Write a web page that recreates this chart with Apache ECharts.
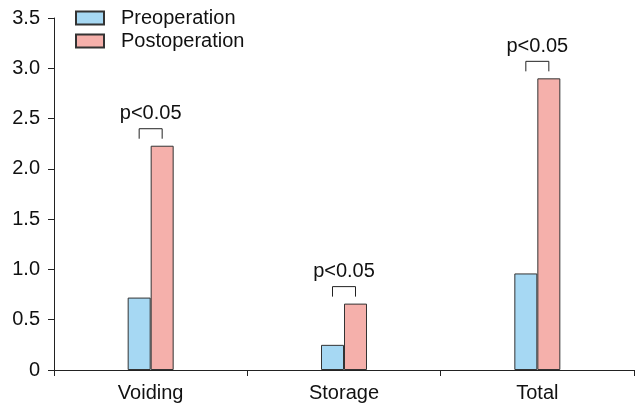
<!DOCTYPE html>
<html>
<head>
<meta charset="utf-8">
<script src="https://cdn.jsdelivr.net/npm/echarts@6/dist/echarts.min.js"></script>
<style>
  html, body { margin: 0; padding: 0; background: #fff; }
  #chart { width: 635px; height: 406px; }
</style>
</head>
<body>
<div id="chart"></div>
<script>
var categories = ['Voiding', 'Storage', 'Total']
var preValues = [0.72, 0.25, 0.96]
var postValues = [2.23, 0.66, 2.9]
var pLabels = ['p<0.05', 'p<0.05', 'p<0.05']

var font = 'Liberation Sans, Arial, sans-serif'
var chart = echarts.init(document.getElementById('chart'))

chart.setOption({
  animation: false,
  backgroundColor: '#fff',
  grid: { left: 54, right: 1, top: 18, bottom: 36 },
  legend: {
    data: ['Preoperation', 'Postoperation'],
    orient: 'vertical',
    left: 75,
    top: 8,
    padding: 0,
    itemWidth: 28,
    itemHeight: 13,
    itemGap: 3,
    icon: 'rect',
    textStyle: { fontFamily: font, fontSize: 20, color: '#111', lineHeight: 20, padding: [0, 0, 0, 12] }
  },
  xAxis: {
    type: 'category',
    data: categories,
    axisLine: { lineStyle: { color: '#222', width: 1 } },
    axisTick: { show: true, length: 6, lineStyle: { color: '#222' } },
    axisLabel: { fontFamily: font, fontSize: 20, color: '#111', margin: 13 }
  },
  yAxis: {
    type: 'value',
    min: 0,
    max: 3.5,
    interval: 0.5,
    splitLine: { show: false },
    axisLine: { show: true, lineStyle: { color: '#222', width: 1 } },
    axisTick: { show: true, length: 6, lineStyle: { color: '#222' } },
    axisLabel: {
      fontFamily: font, fontSize: 20, color: '#111', margin: 14,
      formatter: function(v) { return v === 0 ? '0' : v.toFixed(1) }
    }
  },
  series: [{
    name: 'Preoperation',
    type: 'bar',
    data: preValues,
    barWidth: 23,
    barGap: '0%',
    itemStyle: { color: '#a6d8f3', borderColor: '#333', borderWidth: 1 }
  }, {
    name: 'Postoperation',
    type: 'bar',
    data: postValues,
    barWidth: 23,
    itemStyle: { color: '#f5b0ab', borderColor: '#333', borderWidth: 1 }
  }, {
    type: 'custom',
    silent: true,
    data: postValues.map(function(v, i) { return [i, v, pLabels[i]] }),
    renderItem: function(params, api) {
      var pt = api.coord([api.value(0), api.value(1)])
      var x0 = pt[0] - 11.5
      var x1 = pt[0] + 11.5
      var top = pt[1] - 17
      var bottom = top + 10
      return {
        type: 'group',
        children: [{
          type: 'polyline',
          shape: { points: [[x0, bottom], [x0, top], [x1, top], [x1, bottom]] },
          style: { stroke: '#222', lineWidth: 1, fill: null }
        }, {
          type: 'text',
          style: {
            x: pt[0],
            y: top - 5,
            text: pLabels[params.dataIndex],
            align: 'center',
            verticalAlign: 'bottom',
            fontFamily: font,
            fontSize: 20,
            fill: '#111'
          }
        }]
      }
    }
  }]
})
</script>
</body>
</html>
